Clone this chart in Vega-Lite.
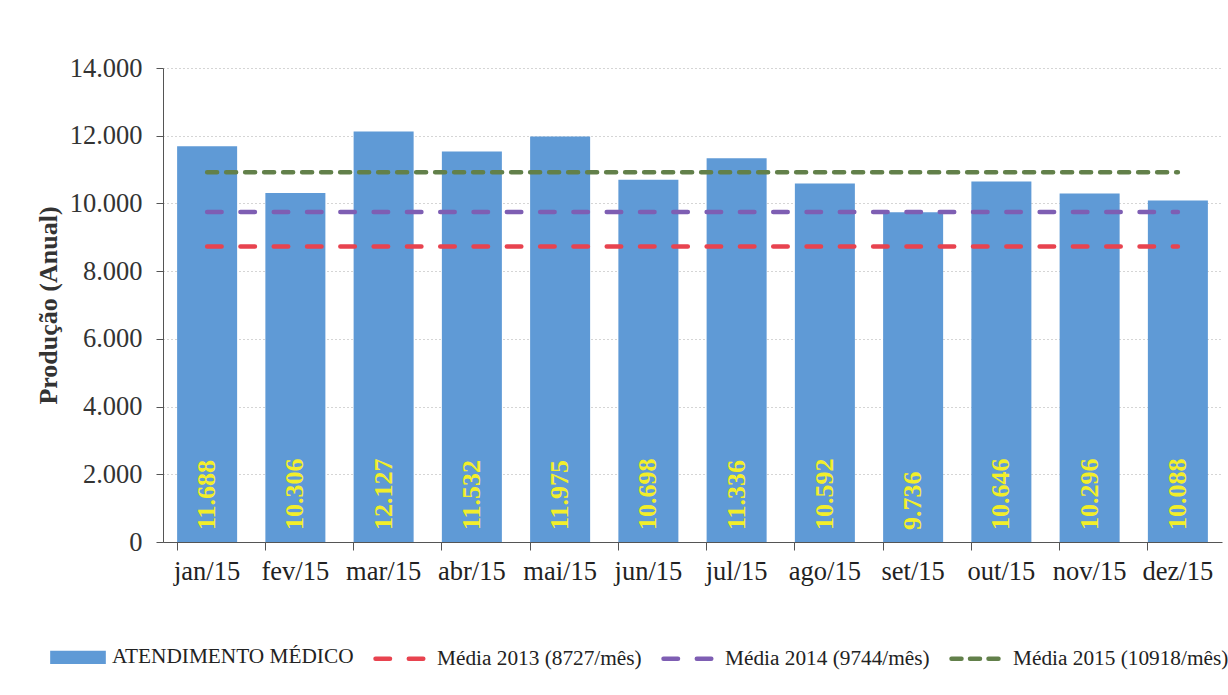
{
  "$schema": "https://vega.github.io/schema/vega-lite/v6.json",
  "width": 1059,
  "height": 474,
  "autosize": {"type": "none"},
  "padding": {"left": 163, "top": 68, "right": 6, "bottom": 153},
  "background": "white",
  "config": {
    "locale": {"number": {"decimal": ",", "thousands": ".", "grouping": [3], "currency": ["R$", ""]}},
    "view": {"stroke": null},
    "font": "Liberation Serif"
  },
  "datasets": {
    "prod": [
      {"mes": "jan/15", "valor": 11688, "serie": "ATENDIMENTO MÉDICO"},
      {"mes": "fev/15", "valor": 10306, "serie": "ATENDIMENTO MÉDICO"},
      {"mes": "mar/15", "valor": 12127, "serie": "ATENDIMENTO MÉDICO"},
      {"mes": "abr/15", "valor": 11532, "serie": "ATENDIMENTO MÉDICO"},
      {"mes": "mai/15", "valor": 11975, "serie": "ATENDIMENTO MÉDICO"},
      {"mes": "jun/15", "valor": 10698, "serie": "ATENDIMENTO MÉDICO"},
      {"mes": "jul/15", "valor": 11336, "serie": "ATENDIMENTO MÉDICO"},
      {"mes": "ago/15", "valor": 10592, "serie": "ATENDIMENTO MÉDICO"},
      {"mes": "set/15", "valor": 9736, "serie": "ATENDIMENTO MÉDICO"},
      {"mes": "out/15", "valor": 10646, "serie": "ATENDIMENTO MÉDICO"},
      {"mes": "nov/15", "valor": 10296, "serie": "ATENDIMENTO MÉDICO"},
      {"mes": "dez/15", "valor": 10088, "serie": "ATENDIMENTO MÉDICO"}
    ],
    "medias": [
      {"serie": "Média 2013 (8727/mês)", "valor": 8727, "inicio": "jan/15", "fim": "dez/15"},
      {"serie": "Média 2014 (9744/mês)", "valor": 9744, "inicio": "jan/15", "fim": "dez/15"},
      {"serie": "Média 2015 (10918/mês)", "valor": 10918, "inicio": "jan/15", "fim": "dez/15"}
    ]
  },
  "layer": [
    {
      "data": {"name": "prod"},
      "mark": {"type": "bar", "opacity": 1},
      "encoding": {
        "x": {
          "field": "mes", "type": "ordinal", "sort": null,
          "scale": {
            "domain": ["jan/15", "fev/15", "mar/15", "abr/15", "mai/15", "jun/15", "jul/15", "ago/15", "set/15", "out/15", "nov/15", "dez/15"],
            "paddingInner": 0.32, "paddingOuter": 0.16
          },
          "axis": {
            "title": null, "labelAngle": 0, "labelFontSize": 26.5, "labelColor": "#222",
            "labelPadding": 8, "bandPosition": 0, "tickSize": 8, "tickColor": "#555",
            "domainColor": "#555", "grid": false, "labelFont": "Liberation Serif"
          }
        },
        "y": {
          "field": "valor", "type": "quantitative",
          "scale": {"domain": [0, 14000], "nice": false},
          "axis": {
            "values": [0, 2000, 4000, 6000, 8000, 10000, 12000, 14000],
            "format": ",.0f", "labelFontSize": 26.5, "labelColor": "#333", "labelPadding": 14,
            "tickSize": 7, "tickColor": "#555", "domainColor": "#555",
            "grid": true, "gridDash": [1, 3], "gridColor": "#aaa",
            "title": "Produção (Anual)", "titleFontSize": 26, "titleFontWeight": "bold",
            "titleColor": "#333", "titlePadding": 8, "titleFont": "Liberation Serif",
            "labelFont": "Liberation Serif"
          }
        },
        "color": {
          "field": "serie", "type": "nominal",
          "scale": {
            "domain": ["ATENDIMENTO MÉDICO", "Média 2013 (8727/mês)", "Média 2014 (9744/mês)", "Média 2015 (10918/mês)"],
            "range": ["#5f9ad6", "#e8434f", "#7e5eb3", "#62804a"]
          },
          "legend": {
            "title": null, "orient": "none", "legendX": -115, "legendY": 559,
            "direction": "horizontal", "symbolType": "stroke", "symbolSize": 3025,
            "labelFontSize": 21.3, "labelColor": "#222", "labelFont": "Liberation Serif",
            "labelOffset": 4, "columnPadding": 12, "symbolOpacity": 1, "labelLimit": 0,
            "encode": {
              "symbols": {
                "update": {
                  "size": {"value": 3025},
                  "shape": {"signal": "datum.value === 'ATENDIMENTO MÉDICO' ? 'M-0.93,-0.16H0.93V0.16H-0.93Z' : 'stroke'"},
                  "stroke": {"signal": "datum.value === 'ATENDIMENTO MÉDICO' ? 'transparent' : scale('color', datum.value)"},
                  "fill": {"signal": "datum.value === 'ATENDIMENTO MÉDICO' ? scale('color', datum.value) : 'transparent'"},
                  "strokeWidth": {"value": 4.5},
                  "strokeCap": {"value": "round"},
                  "strokeDash": {"signal": "datum.value === 'ATENDIMENTO MÉDICO' ? [] : (datum.value === 'Média 2015 (10918/mês)' ? [10, 8.5] : [14.5, 18.8])"},
                  "opacity": {"value": 1}
                }
              }
            }
          }
        }
      }
    },
    {
      "data": {"name": "medias"},
      "mark": {"type": "rule", "strokeWidth": 4.5, "strokeCap": "round"},
      "encoding": {
        "x": {"field": "inicio", "type": "ordinal", "sort": null},
        "x2": {"field": "fim"},
        "y": {"field": "valor", "type": "quantitative"},
        "color": {"field": "serie", "type": "nominal"},
        "strokeDash": {
          "field": "serie", "type": "nominal",
          "scale": {
            "domain": ["Média 2013 (8727/mês)", "Média 2014 (9744/mês)", "Média 2015 (10918/mês)"],
            "range": [[14.5, 18.8], [14.5, 18.8], [10, 9]]
          },
          "legend": null
        }
      }
    },
    {
      "data": {"name": "prod"},
      "mark": {"type": "text", "angle": 270, "align": "left", "baseline": "middle", "dx": 12, "color": "#f2ee2a", "fontWeight": "bold", "fontSize": 26, "font": "Liberation Serif"},
      "encoding": {
        "x": {"field": "mes", "type": "ordinal", "sort": null},
        "y": {"datum": 0, "type": "quantitative"},
        "text": {"field": "valor", "type": "quantitative", "format": ",.0f"}
      }
    }
  ]
}
